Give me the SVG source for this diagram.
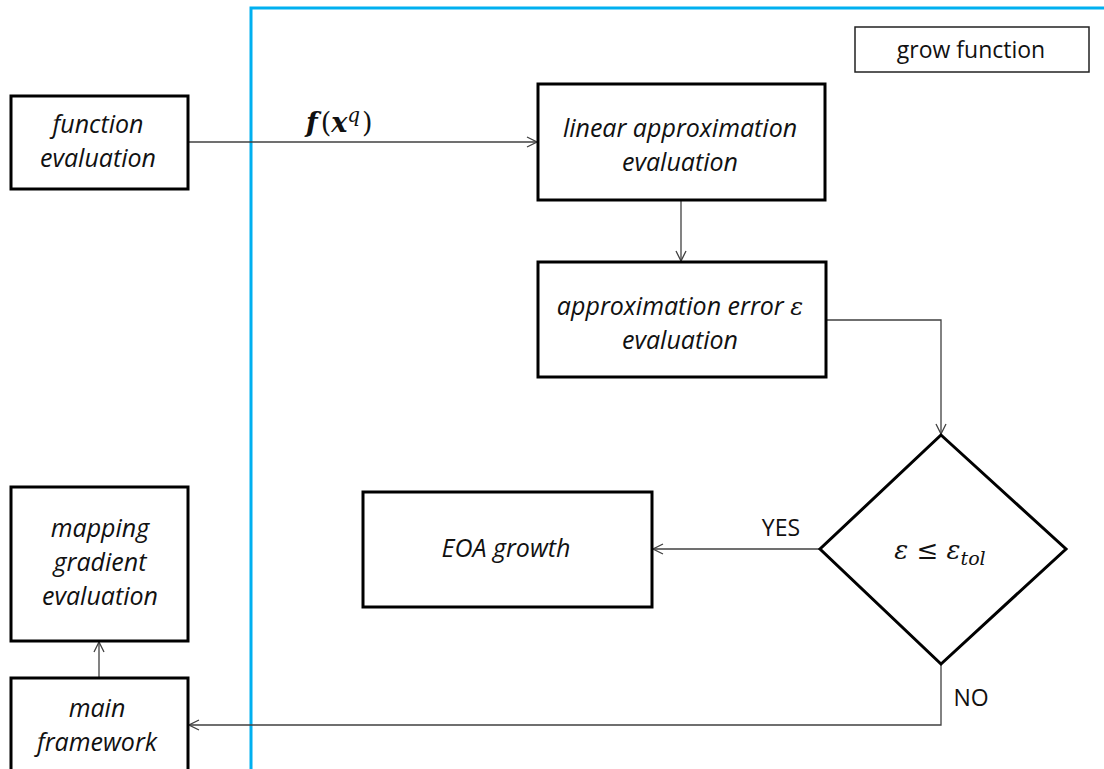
<svg xmlns="http://www.w3.org/2000/svg" width="1104" height="769" viewBox="0 0 1104 769">
<defs>
<marker id="arr" viewBox="0 0 12 12" refX="11" refY="6" markerWidth="12" markerHeight="12" markerUnits="userSpaceOnUse" orient="auto">
<path d="M1,1 L11,6 L1,11" fill="none" stroke="#404040" stroke-width="1.3"/>
</marker>
</defs>
<style>
.box{fill:#fff;stroke:#000;stroke-width:3}
.lbl{font-family:"Open Sans","Liberation Sans",sans-serif;font-style:italic;font-size:25px;fill:#111;text-anchor:middle}
.plain{font-family:"Open Sans","Liberation Sans",sans-serif;font-size:23px;fill:#111;text-anchor:middle}
.math{font-family:"DejaVu Serif","Liberation Serif",serif;font-style:italic;fill:#111}
.conn{fill:none;stroke:#404040;stroke-width:1.3}
</style>
<rect width="1104" height="769" fill="#fff"/>
<g id="frame">
<path d="M251,769 L251,8 L1104,8" fill="none" stroke="#00B0F0" stroke-width="3"/>
</g>
<g id="connectors">
<path class="conn" d="M188,142 L537,142" marker-end="url(#arr)"/>
<path class="conn" d="M681,200 L681,261" marker-end="url(#arr)"/>
<path class="conn" d="M826,320 L941,320 L941,434" marker-end="url(#arr)"/>
<path class="conn" d="M820,549 L653,549" marker-end="url(#arr)"/>
<path class="conn" d="M941,664 L941,725 L189,725" marker-end="url(#arr)"/>
<path class="conn" d="M99,678 L99,642" marker-end="url(#arr)"/>
<text class="math" x="306" y="132" font-size="27" font-weight="bold">f<tspan dx="3" font-weight="normal" font-style="normal">(</tspan>x<tspan font-size="20" dy="-10" font-weight="normal">q</tspan><tspan dx="2" dy="10" font-weight="normal" font-style="normal">)</tspan></text>
<text class="plain" x="781" y="536">YES</text>
<text class="plain" x="971" y="706">NO</text>
</g>
<g id="grow-function">
<rect x="855" y="27" width="234" height="45" fill="#fff" stroke="#222" stroke-width="1.5"/>
<text class="plain" x="971" y="58" font-size="25">grow function</text>
</g>
<g id="function-evaluation">
<rect class="box" x="11" y="96" width="177" height="93"/>
<text class="lbl" x="98" y="133">function</text>
<text class="lbl" x="98" y="167">evaluation</text>
</g>
<g id="linear-approximation">
<rect class="box" x="538" y="84" width="287" height="116"/>
<text class="lbl" x="680" y="137">linear approximation</text>
<text class="lbl" x="680" y="171">evaluation</text>
</g>
<g id="approximation-error">
<rect class="box" x="538" y="262" width="288" height="115"/>
<text class="lbl" x="680" y="315">approximation error <tspan class="math" font-size="24">ε</tspan></text>
<text class="lbl" x="680" y="349">evaluation</text>
</g>
<g id="decision">
<polygon class="box" points="941,435 1066,549 941,664 820,549"/>
<text class="math" x="940" y="559" font-size="26" text-anchor="middle">ε <tspan font-style="normal">≤</tspan> ε<tspan font-size="19" dy="6">tol</tspan></text>
</g>
<g id="eoa-growth">
<rect class="box" x="363" y="492" width="289" height="115"/>
<text class="lbl" x="506" y="557">EOA growth</text>
</g>
<g id="mapping-gradient">
<rect class="box" x="11" y="487" width="177" height="154"/>
<text class="lbl" x="100" y="537">mapping</text>
<text class="lbl" x="100" y="571">gradient</text>
<text class="lbl" x="100" y="605">evaluation</text>
</g>
<g id="main-framework">
<rect class="box" x="11" y="678" width="177" height="100"/>
<text class="lbl" x="97" y="717">main</text>
<text class="lbl" x="97" y="751">framework</text>
</g>
</svg>
